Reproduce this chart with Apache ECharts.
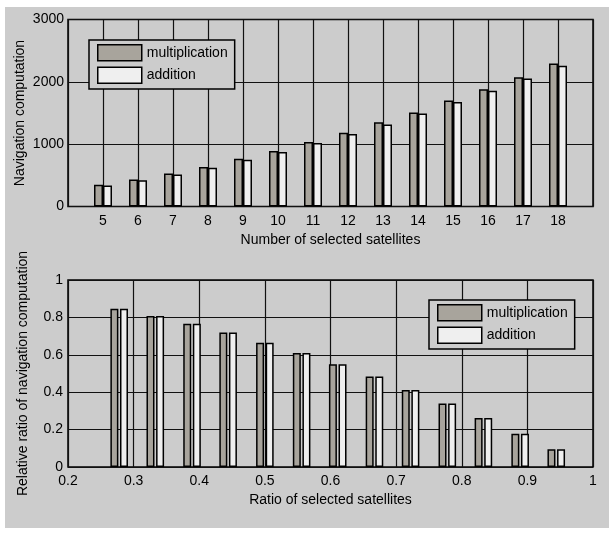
<!DOCTYPE html>
<html>
<head>
<meta charset="utf-8">
<script src="https://cdn.jsdelivr.net/npm/echarts@6/dist/echarts.min.js"></script>
<style>
html,body{margin:0;padding:0;background:#ffffff;}
#c{width:609px;height:535px;}
</style>
</head>
<body>
<div id="c"></div>
<script>
// ---- Top chart data ----
const satCounts = [5, 6, 7, 8, 9, 10, 11, 12, 13, 14, 15, 16, 17, 18];
const topMultiplication = [350, 435, 530, 635, 765, 890, 1035, 1185, 1350, 1510, 1700, 1880, 2075, 2295];
const topAddition = [335, 420, 515, 620, 750, 875, 1020, 1165, 1315, 1490, 1675, 1855, 2055, 2260];
const topYTicks = [0, 1000, 2000, 3000];
const topXRange = [4, 19];

// ---- Bottom chart data ----
const satRatios = [0.278, 0.333, 0.389, 0.444, 0.5, 0.556, 0.611, 0.667, 0.722, 0.778, 0.833, 0.889, 0.944];
const bottomMultiplication = [0.846, 0.807, 0.766, 0.719, 0.665, 0.609, 0.550, 0.484, 0.412, 0.339, 0.262, 0.178, 0.095];
const bottomAddition = [0.846, 0.807, 0.766, 0.719, 0.665, 0.609, 0.550, 0.484, 0.412, 0.339, 0.262, 0.178, 0.095];
const bottomXTicks = [0.2, 0.3, 0.4, 0.5, 0.6, 0.7, 0.8, 0.9, 1];
const bottomYTicks = [0, 0.2, 0.4, 0.6, 0.8, 1];

const FONT = "'Liberation Sans', Arial, sans-serif";
const BG = '#cccccc';
const GRAYBAR = '#a8a49c';
const WHITEBAR = '#efefef';
const INK = '#000000';

const chart = echarts.init(document.getElementById('c'), null, {renderer: 'canvas'});

const labelStyle = {color: '#000', fontSize: 14, fontFamily: FONT};
const nameStyle = {color: '#000', fontSize: 14, fontFamily: FONT};
const split = {show: true, lineStyle: {color: '#111', width: 1.2}};

function barSeries(name, color, xIdx, xs, ys, width, gap) {
  return {
    type: 'bar', name: name, xAxisIndex: xIdx, yAxisIndex: xIdx,
    barWidth: width, barGap: gap,
    itemStyle: {color: color, borderColor: INK, borderWidth: 1.5},
    data: xs.map((x, i) => [x, ys[i]]),
    animation: false
  };
}

function legend(left, top) {
  return {
    left: left, top: top, orient: 'vertical',
    data: ['multiplication', 'addition'],
    icon: 'rect', itemWidth: 44, itemHeight: 16, itemGap: 5,
    padding: [4, 7, 5, 8],
    backgroundColor: BG, borderColor: INK, borderWidth: 1.5,
    textStyle: {color: '#000', fontSize: 14, fontFamily: FONT, padding: [0, 0, 0, 0]},
    itemStyle: {borderColor: INK, borderWidth: 1.5},
    selectedMode: false
  };
}

const option = {
  animation: false,
  backgroundColor: '#ffffff',
  graphic: [{type: 'rect', z: -10, shape: {x: 5, y: 7, width: 604, height: 521}, style: {fill: BG}}],
  grid: [
    {left: 68, top: 19.5, width: 525, height: 187, show: true, borderColor: INK, borderWidth: 1.5, backgroundColor: 'transparent'},
    {left: 68, top: 280, width: 525, height: 187, show: true, borderColor: INK, borderWidth: 1.5, backgroundColor: 'transparent'}
  ],
  legend: [legend(89, 40), legend(429, 300)],
  xAxis: [
    {
      type: 'value', gridIndex: 0, min: topXRange[0], max: topXRange[1], interval: 1,
      name: 'Number of selected satellites', nameLocation: 'middle', nameGap: 27, nameTextStyle: nameStyle,
      nameMoveOverlap: false,
      axisLine: {show: false}, axisTick: {show: false},
      axisLabel: Object.assign({margin: 8, formatter: v => satCounts.includes(v) ? String(v) : ''}, labelStyle),
      splitLine: split
    },
    {
      type: 'value', gridIndex: 1, min: bottomXTicks[0], max: bottomXTicks[bottomXTicks.length - 1], interval: 0.1,
      name: 'Ratio of selected satellites', nameLocation: 'middle', nameGap: 26, nameTextStyle: nameStyle,
      nameMoveOverlap: false,
      axisLine: {show: false}, axisTick: {show: false},
      axisLabel: Object.assign({margin: 7, formatter: v => String(+v.toFixed(1))}, labelStyle),
      splitLine: split
    }
  ],
  yAxis: [
    {
      type: 'value', gridIndex: 0, min: topYTicks[0], max: topYTicks[topYTicks.length - 1], interval: 1000,
      name: 'Navigation computation', nameLocation: 'middle', nameGap: 41, nameTextStyle: nameStyle,
      nameMoveOverlap: false,
      axisLine: {show: false}, axisTick: {show: false},
      axisLabel: Object.assign({margin: 4, formatter: v => String(v)}, labelStyle),
      splitLine: split
    },
    {
      type: 'value', gridIndex: 1, min: bottomYTicks[0], max: bottomYTicks[bottomYTicks.length - 1], interval: 0.2,
      name: 'Relative ratio of navigation computation', nameLocation: 'middle', nameGap: 38, nameTextStyle: nameStyle,
      nameMoveOverlap: false,
      axisLine: {show: false}, axisTick: {show: false},
      axisLabel: Object.assign({margin: 5, formatter: v => String(+v.toFixed(1))}, labelStyle),
      splitLine: split
    }
  ],
  series: [
    barSeries('multiplication', GRAYBAR, 0, satCounts, topMultiplication, 9, '0%'),
    barSeries('addition', WHITEBAR, 0, satCounts, topAddition, 9, '0%'),
    barSeries('multiplication', GRAYBAR, 1, satRatios, bottomMultiplication, 8, '20%'),
    barSeries('addition', WHITEBAR, 1, satRatios, bottomAddition, 8, '20%')
  ]
};
chart.setOption(option);
</script>
</body>
</html>
